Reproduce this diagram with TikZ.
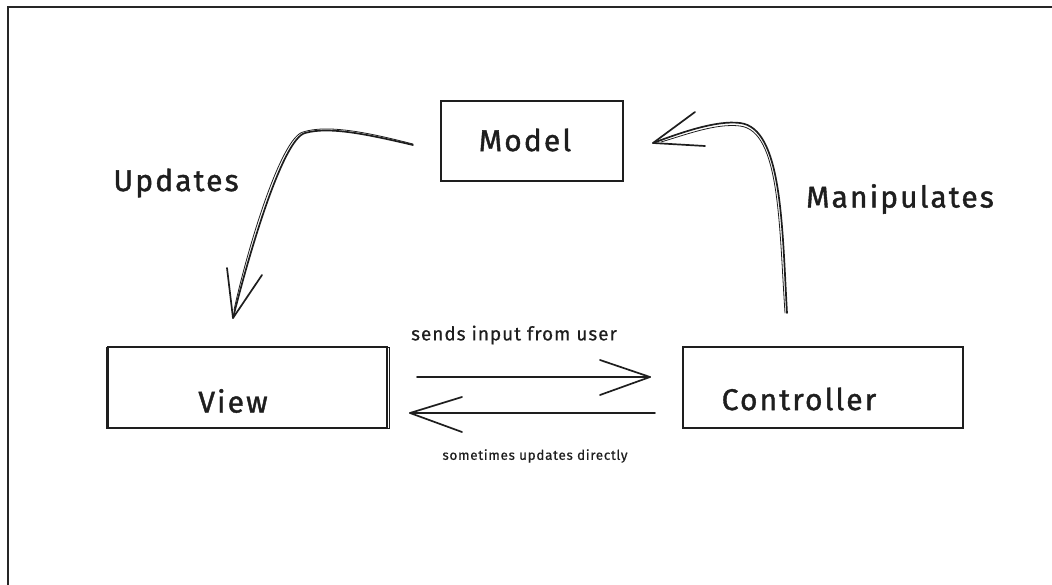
\documentclass[tikz,border=0pt]{standalone}
\usepackage{fontspec}
\setmainfont{Fira Sans}
\newfontfamily\handfont{Fira Sans}[FakeBold=1.3,LetterSpace=7]
\newfontfamily\handsmall{Fira Sans}[FakeBold=0.6,LetterSpace=5]
\usetikzlibrary{calc}
\definecolor{ink}{HTML}{1E1E1E}
\tikzset{
  every picture/.style={x=1pt,y=-1pt},
  stroke/.style={draw=ink,line width=1.7pt,line cap=round,line join=round},
  thin stroke/.style={draw=ink,line width=0.8pt,line cap=round},
  boxnode/.style={draw=ink,line width=2pt,rectangle,inner sep=0pt},
  bigtext/.style={text=ink,font=\handfont\fontsize{30}{32}\selectfont,inner sep=0pt},
  smalltext/.style={text=ink,inner sep=0pt},
}
\begin{document}
\begin{tikzpicture}
  \useasboundingbox (0,0) rectangle (1052,585);
  % outer frame, cut by the page edges
  \draw[draw=black!85,line width=2.6pt] (8,585) -- (8,7) -- (1052,7);

  % boxes
  \node[boxnode,minimum width=182pt,minimum height=80pt] (model) at (532,141) {};
  \node[boxnode,minimum width=279pt,minimum height=81pt] (view) at (247.5,387.5) {};
  \node[boxnode,minimum width=280pt,minimum height=81pt] (controller) at (823,387.5) {};
  % second pencil pass on the boxes
  \draw[thin stroke] ($(model.north west)+(1.5,1)$) rectangle ($(model.south east)+(-2,-1.5)$);
  \draw[thin stroke] ($(view.north west)+(-1,1.2)$) rectangle ($(view.south east)+(1,-1)$);
  \draw[thin stroke] ($(controller.north west)+(1.5,1.5)$) rectangle ($(controller.south east)+(-1.5,-1.5)$);

  % box captions
  \node[bigtext] (model-text) at (525,140) {Model};
  \node[bigtext] (view-text) at (233,401) {View};
  \node[bigtext] (controller-text) at (799,399) {Controller};

  % arrow end points
  \coordinate (upd-a) at (413,145);
  \coordinate (upd-b) at (233,318);
  \coordinate (man-a) at (787,313);
  \coordinate (man-b) at (653,143);
  \coordinate (snd-a) at (417,377);
  \coordinate (snd-b) at (650,377);
  \coordinate (ret-a) at (655,413);
  \coordinate (ret-b) at (410,413);

  % Model -> View
  \draw[stroke] (upd-a) .. controls (370,135) and (330,126) .. (305,133)
                        .. controls (283,139) and (250,250) .. (upd-b);
  \draw[thin stroke] ($(upd-a)+(0,-1)$) .. controls (370,133) and (328,124) .. (303,132)
                        .. controls (281,138) and (248,246) .. ($(upd-b)+(1,-8)$);
  \draw[stroke] (227,268) -- (upd-b) -- (262,275);

  % Controller -> Model
  \draw[stroke] (man-a) .. controls (782,225) and (782,128) .. (740,123)
                        .. controls (716,120) and (680,133) .. (man-b);
  \draw[thin stroke] ($(man-a)+(-2,0)$) .. controls (779,225) and (780,131) .. (740,126)
                        .. controls (716,123) and (685,135) .. ($(man-b)+(8,-1)$);
  \draw[stroke] (695,112) -- (man-b) -- (705,146);

  % View <-> Controller
  \draw[stroke] (snd-a) -- (snd-b);
  \draw[stroke] (600,360) -- (snd-b) -- (600,395);
  \draw[stroke] (ret-a) -- (ret-b);
  \draw[stroke] (462,397) -- (ret-b) -- (462,432);

  % edge labels
  \node[bigtext] (updates) at (176,183) {Updates};
  \node[bigtext] (manipulates) at (900,199) {Manipulates};
  \node[smalltext,font=\handsmall\fontsize{19}{21}\selectfont] (sends) at (514,335) {sends input from user};
  \node[smalltext,font=\handsmall\fontsize{13.5}{16}\selectfont] (sometimes) at (535,456) {sometimes updates directly};
\end{tikzpicture}
\end{document}
